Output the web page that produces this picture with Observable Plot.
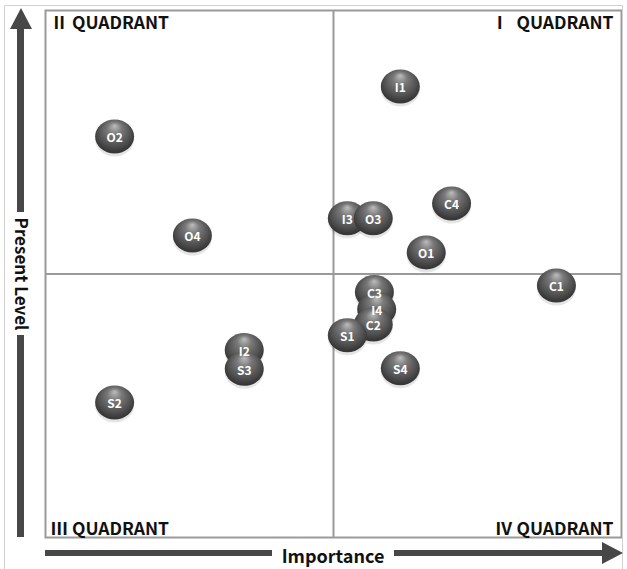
<!DOCTYPE html>
<html><head><meta charset="utf-8">
<script src="https://cdn.jsdelivr.net/npm/d3@7"></script>
<script src="https://cdn.jsdelivr.net/npm/@observablehq/plot@0.6"></script>
<style>body{margin:0;background:#fff} #chart{width:627px;height:569px}</style>
</head><body><div id="chart"></div>
<script>
const labels = ["I1","O2","C4","I3","O3","O4","O1","C1","C3","I4","C2","S1","I2","S3","S4","S2"];
const importance = [61.6,12.0,70.5,52.4,56.9,25.5,66.1,88.7,57.1,57.5,56.9,52.4,34.5,34.5,61.6,12.0];
const presentLevel = [85.6,76.1,63.4,60.6,60.6,57.3,54.1,47.8,46.6,43.3,40.4,38.4,35.6,32.0,32.1,25.6];
const quadrantTopRight = ["Ⅰ  QUADRANT"];
const quadrantTopLeft = ["Ⅱ QUADRANT"];
const quadrantBottomLeft = ["Ⅲ QUADRANT"];
const quadrantBottomRight = ["Ⅳ QUADRANT"];
const xLabel = "Importance";
const yLabel = "Present Level";

const data = labels.map((l, i) => ({label: l, x: importance[i], y: presentLevel[i]}));
const font = "'Noto Sans CJK KR', 'Noto Sans', sans-serif";

const ellipse = {draw(ctx) {
  const rx = 19.5, ry = 17, k = 0.5523;
  ctx.moveTo(rx, 0);
  ctx.bezierCurveTo(rx, ry * k, rx * k, ry, 0, ry);
  ctx.bezierCurveTo(-rx * k, ry, -rx, ry * k, -rx, 0);
  ctx.bezierCurveTo(-rx, -ry * k, -rx * k, -ry, 0, -ry);
  ctx.bezierCurveTo(rx * k, -ry, rx, -ry * k, rx, 0);
  ctx.closePath();
}};

const qStyle = {fontFamily: font, fontWeight: "bold", fontSize: 17.5, fill: "#111"};
const plot = Plot.plot({
  width: 627, height: 569,
  marginLeft: 45, marginRight: 6, marginTop: 10, marginBottom: 32,
  x: {domain: [0, 100], axis: null},
  y: {domain: [0, 100], axis: null},
  style: {fontFamily: font, background: "#fff"},
  marks: [
    Plot.ruleX([50], {stroke: "#9a9a9a", strokeWidth: 2}),
    Plot.ruleY([50], {stroke: "#9a9a9a", strokeWidth: 2}),
    Plot.frame({stroke: "#9a9a9a", strokeWidth: 2}),
    Plot.dot(data, {x: "x", y: "y", dy: 3, symbol: ellipse, fill: "rgba(0,0,0,0.10)", stroke: "none"}),
    Plot.dot(data, {x: "x", y: "y", symbol: ellipse, fill: "url(#sphere)", stroke: "none"}),
    Plot.text(data, {x: "x", y: "y", text: "label", dy: 2, fill: "white", fontWeight: "bold", fontSize: 12}),
    Plot.text(quadrantTopRight, {text: d => d, frameAnchor: "top-right", dx: -8, dy: 6, ...qStyle}),
    Plot.text(quadrantTopLeft, {text: d => d, frameAnchor: "top-left", dx: 5, dy: 6, ...qStyle}),
    Plot.text(quadrantBottomLeft, {text: d => d, frameAnchor: "bottom-left", dx: 5, dy: -3, ...qStyle}),
    Plot.text(quadrantBottomRight, {text: d => d, frameAnchor: "bottom-right", dx: -8, dy: -3, ...qStyle})
  ]
});

const svg = d3.select(plot);
const defs = svg.append("defs");
const g = defs.append("radialGradient").attr("id", "sphere")
  .attr("cx", "0.5").attr("cy", "0.45").attr("r", "0.6").attr("fx", "0.5").attr("fy", "0.18");
[["0%", "#bdbdbd"], ["30%", "#7a7a7a"], ["68%", "#515151"], ["90%", "#363636"], ["100%", "#484848"]]
  .forEach(([o, c]) => g.append("stop").attr("offset", o).attr("stop-color", c));

// decorations: outer border and axis arrows
const deco = svg.append("g");
deco.append("path").attr("d", "M4.5,569 V5.5 H622.5 V569").attr("fill", "none").attr("stroke", "#d0d0d0").attr("stroke-width", 1);
const arrowColor = "#474747";
// vertical arrow
deco.append("path").attr("d", "M21,8 L32,29 L10,29 Z").attr("fill", arrowColor);
deco.append("rect").attr("x", 17).attr("y", 28).attr("width", 7).attr("height", 184).attr("fill", arrowColor);
deco.append("rect").attr("x", 17).attr("y", 335).attr("width", 7).attr("height", 202).attr("fill", arrowColor);
deco.append("text").attr("transform", "translate(20.5,274) rotate(90)").attr("text-anchor", "middle")
  .attr("dy", "0.35em").attr("font-family", font).attr("font-weight", "bold").attr("font-size", 17).attr("fill", "#111").text(yLabel);
// horizontal arrow
deco.append("rect").attr("x", 45).attr("y", 550).attr("width", 227).attr("height", 6).attr("fill", arrowColor);
deco.append("rect").attr("x", 394).attr("y", 550).attr("width", 210).attr("height", 6).attr("fill", arrowColor);
deco.append("path").attr("d", "M602,542 L623,553 L602,564 Z").attr("fill", arrowColor);
deco.append("text").attr("x", 333).attr("y", 556).attr("text-anchor", "middle")
  .attr("dy", "0.38em").attr("font-family", font).attr("font-weight", "bold").attr("font-size", 18).attr("fill", "#111").text(xLabel);

document.getElementById("chart").appendChild(plot);
</script>
</body></html>
